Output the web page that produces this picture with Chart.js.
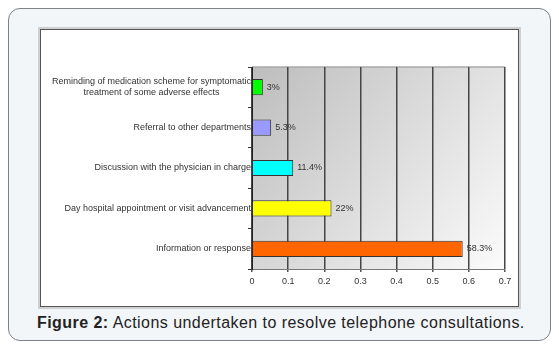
<!DOCTYPE html>
<html>
<head>
<meta charset="utf-8">
<script src="https://cdn.jsdelivr.net/npm/chart.js@4/dist/chart.umd.min.js"></script>
<style>
  html, body { margin: 0; padding: 0; background: #fff; }
  body { width: 559px; height: 351px; position: relative; overflow: hidden; font-family: "Liberation Sans", Arial, sans-serif; }
  .card { position: absolute; left: 8px; top: 8px; width: 541px; height: 331px; background: #f3f6f9; border: 1px solid #7d8288; border-radius: 12px; }
  .frame { position: absolute; left: 40px; top: 29px; width: 477px; height: 276px; background: #fff; border: 1px solid #555; box-shadow: 0 0 0 2px #d0d0d0; }
  .caption { position: absolute; left: 37px; top: 314px; font-size: 16px; letter-spacing: 0.45px; color: #222; white-space: nowrap; }
  .caption b { font-weight: bold; }
  #chart { position: absolute; left: 0; top: 0; }
</style>
</head>
<body>
<div class="card"></div>
<div class="frame"></div>
<div class="caption"><b>Figure 2:</b> Actions undertaken to resolve telephone consultations.</div>
<canvas id="chart" width="559" height="351"></canvas>
<script>
// categories top to bottom
const categories = [
  ['Reminding of medication scheme for symptomatic', 'treatment of some adverse effects'],
  'Referral to other departments',
  'Discussion with the physician in charge',
  'Day hospital appointment or visit advancement',
  'Information or response'
];
const values = [0.03, 0.053, 0.114, 0.22, 0.583];
const valueLabels = ['3%', '5.3%', '11.4%', '22%', '58.3%'];
const barColors = ['#00ff00', '#9999ff', '#00ffff', '#ffff00', '#ff6600'];
const xTickLabels = ['0', '0.1', '0.2', '0.3', '0.4', '0.5', '0.6', '0.7'];

const FONT = '"Liberation Sans", Arial, sans-serif';

const plotBg = {
  id: 'plotBg',
  beforeDraw(chart) {
    const { ctx, chartArea: a } = chart;
    const g = ctx.createLinearGradient(a.left, a.top, a.right, a.bottom);
    g.addColorStop(0, '#bdbdbd');
    g.addColorStop(1, '#fbfbfb');
    ctx.save();
    ctx.fillStyle = g;
    ctx.fillRect(a.left, a.top, a.right - a.left, a.bottom - a.top);
    ctx.strokeStyle = '#a8a8a8';
    ctx.lineWidth = 1.5;
    ctx.beginPath();
    ctx.moveTo(a.left, a.top);
    ctx.lineTo(a.right, a.top);
    ctx.stroke();
    ctx.restore();
  }
};

// category labels: block right-aligned to the axis, lines centred in the block
const catLabels = {
  id: 'catLabels',
  afterDraw(chart) {
    const { ctx } = chart;
    const y = chart.scales.y;
    ctx.save();
    ctx.font = '9px ' + FONT;
    ctx.fillStyle = '#333';
    ctx.textAlign = 'center';
    ctx.textBaseline = 'middle';
    const lh = 11;
    categories.forEach((c, i) => {
      const lines = Array.isArray(c) ? c : [c];
      const w = Math.max(...lines.map(l => ctx.measureText(l).width));
      const cx = y.right - 1 - w / 2;
      const cy = y.getPixelForTick(i);
      lines.forEach((l, k) => {
        ctx.fillText(l, cx, cy + (k - (lines.length - 1) / 2) * lh);
      });
    });
    ctx.restore();
  }
};

const barLabels = {
  id: 'barLabels',
  afterDatasetsDraw(chart) {
    const { ctx } = chart;
    const meta = chart.getDatasetMeta(0);
    ctx.save();
    ctx.font = '9px ' + FONT;
    ctx.fillStyle = '#333';
    ctx.textBaseline = 'middle';
    meta.data.forEach((bar, i) => {
      ctx.fillText(valueLabels[i], bar.x + 4, bar.y);
    });
    ctx.restore();
  }
};

new Chart(document.getElementById('chart'), {
  type: 'bar',
  data: {
    labels: categories,
    datasets: [{
      data: values,
      backgroundColor: barColors,
      borderColor: '#333',
      borderWidth: 1,
      categoryPercentage: 0.4,
      barPercentage: 1
    }]
  },
  options: {
    indexAxis: 'y',
    responsive: false,
    animation: false,
    layout: { padding: { left: 44, right: 54, top: 67, bottom: 62 } },
    plugins: { legend: { display: false }, tooltip: { enabled: false } },
    scales: {
      x: {
        min: 0, max: 0.7,
        ticks: {
          stepSize: 0.1,
          color: '#333',
          font: { size: 9, family: FONT },
          padding: 4,
          callback: (v, i) => xTickLabels[i]
        },
        grid: { color: '#454545', lineWidth: 1.5, tickLength: 3, tickColor: '#555' },
        border: { color: '#777', width: 1 },
        afterFit: s => { s.height = 20; }
      },
      y: {
        offset: true,
        ticks: { display: false, autoSkip: false },
        grid: { drawOnChartArea: false, offset: true, tickLength: 4, color: '#333' },
        border: { color: '#222', width: 1 },
        afterFit: s => { s.width = 208; }
      }
    }
  },
  plugins: [plotBg, barLabels, catLabels]
});
</script>
</body>
</html>
